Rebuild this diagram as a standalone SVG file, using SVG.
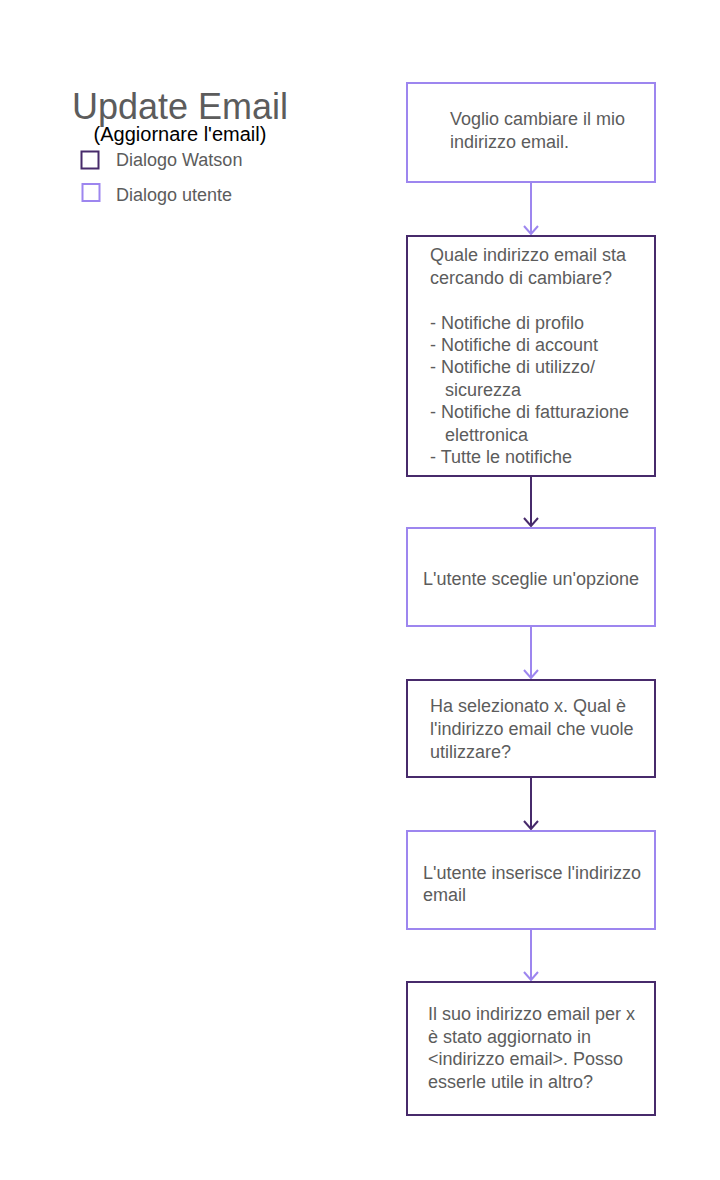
<svg xmlns="http://www.w3.org/2000/svg" width="720" height="1180" viewBox="0 0 720 1180">
<defs>
<style>
.t{font-family:"Liberation Sans",Arial,sans-serif;font-size:18px;fill:#5c5c5c}
.user{fill:#fff;stroke:#9d86ef;stroke-width:2}
.watson{fill:#fff;stroke:#472a6b;stroke-width:2}
.cu{stroke:#9d86ef;stroke-width:2;fill:none}
.cw{stroke:#472a6b;stroke-width:2;fill:none}
</style>
<marker id="au" markerWidth="11" markerHeight="16" refX="9" refY="8" orient="auto" markerUnits="userSpaceOnUse" viewBox="0 0 11 16">
<path d="M1,1 L9,8 L1,15" fill="none" stroke="#9d86ef" stroke-width="2"/>
</marker>
<marker id="aw" markerWidth="11" markerHeight="16" refX="9" refY="8" orient="auto" markerUnits="userSpaceOnUse" viewBox="0 0 11 16">
<path d="M1,1 L9,8 L1,15" fill="none" stroke="#472a6b" stroke-width="2"/>
</marker>
</defs>
<rect width="720" height="1180" fill="#fff"/>
<g id="legend">
<text x="72" y="119" font-family="Liberation Sans,Arial,sans-serif" font-size="36" fill="#5c5c5c">Update Email</text>
<text x="180" y="141" text-anchor="middle" font-family="Liberation Sans,Arial,sans-serif" font-size="20" fill="#000">(Aggiornare l'email)</text>
<rect x="81.5" y="151.5" width="17" height="17" class="watson"/>
<text x="116" y="166" class="t">Dialogo Watson</text>
<rect x="82.5" y="184" width="17" height="17" class="user"/>
<text x="116" y="201" class="t">Dialogo utente</text>
</g>
<g id="connectors">
<path d="M531,182 V234" class="cu" marker-end="url(#au)"/>
<path d="M531,476 V526" class="cw" marker-end="url(#aw)"/>
<path d="M531,626 V678" class="cu" marker-end="url(#au)"/>
<path d="M531,777 V829" class="cw" marker-end="url(#aw)"/>
<path d="M531,929 V980" class="cu" marker-end="url(#au)"/>
</g>
<g id="n1">
<rect x="407" y="83" width="248" height="99" class="user"/>
<text class="t"><tspan x="450" y="125">Voglio cambiare il mio</tspan><tspan x="450" y="148">indirizzo email.</tspan></text>
</g>
<g id="n2">
<rect x="407" y="236" width="248" height="240" class="watson"/>
<text class="t"><tspan x="430" y="261">Quale indirizzo email sta</tspan><tspan x="430" y="284">cercando di cambiare?</tspan><tspan x="430" y="329">- Notifiche di profilo</tspan><tspan x="430" y="351">- Notifiche di account</tspan><tspan x="430" y="373">- Notifiche di utilizzo/</tspan><tspan x="445" y="396">sicurezza</tspan><tspan x="430" y="418">- Notifiche di fatturazione</tspan><tspan x="445" y="441">elettronica</tspan><tspan x="430" y="463">- Tutte le notifiche</tspan></text>
</g>
<g id="n3">
<rect x="407" y="528" width="248" height="98" class="user"/>
<text x="531" y="585" text-anchor="middle" class="t">L'utente sceglie un'opzione</text>
</g>
<g id="n4">
<rect x="407" y="680" width="248" height="97" class="watson"/>
<text class="t"><tspan x="430" y="712">Ha selezionato x. Qual è</tspan><tspan x="430" y="735">l'indirizzo email che vuole</tspan><tspan x="430" y="758">utilizzare?</tspan></text>
</g>
<g id="n5">
<rect x="407" y="831" width="248" height="98" class="user"/>
<text class="t"><tspan x="423" y="879">L'utente inserisce l'indirizzo</tspan><tspan x="423" y="901">email</tspan></text>
</g>
<g id="n6">
<rect x="407" y="982" width="248" height="133" class="watson"/>
<text class="t"><tspan x="428" y="1020">Il suo indirizzo email per x</tspan><tspan x="428" y="1043">è stato aggiornato in</tspan><tspan x="428" y="1065">&lt;indirizzo email&gt;. Posso</tspan><tspan x="428" y="1088">esserle utile in altro?</tspan></text>
</g>
</svg>
